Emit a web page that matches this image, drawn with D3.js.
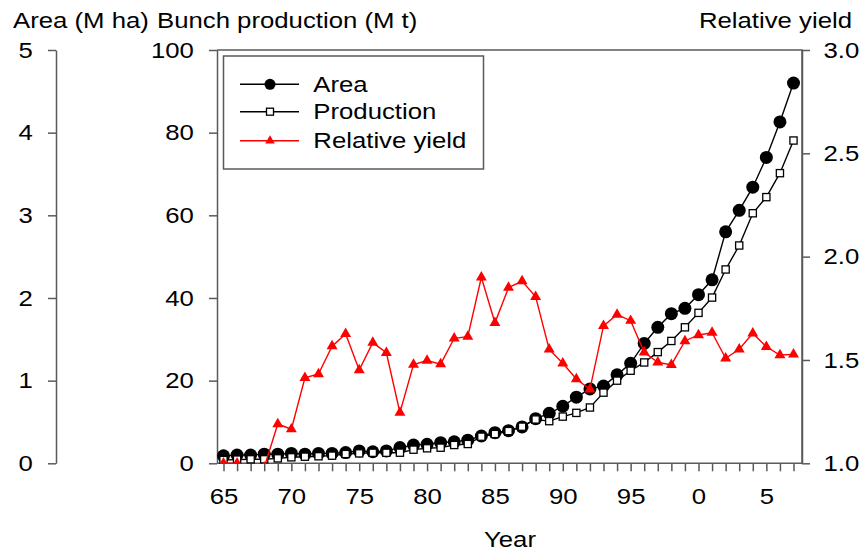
<!DOCTYPE html>
<html><head><meta charset="utf-8">
<script src="https://cdn.jsdelivr.net/npm/d3@7/dist/d3.min.js"></script>
<style>
body{margin:0;background:#fff;}
text{font-family:"Liberation Sans",Arial,sans-serif;fill:#000;}
</style></head>
<body><svg id="c" width="863" height="552"></svg>
<script>
const years = [1965,1966,1967,1968,1969,1970,1971,1972,1973,1974,1975,1976,1977,1978,1979,1980,1981,1982,1983,1984,1985,1986,1987,1988,1989,1990,1991,1992,1993,1994,1995,1996,1997,1998,1999,2000,2001,2002,2003,2004,2005,2006,2007];
const area = [0.09,0.10,0.10,0.11,0.11,0.12,0.11,0.12,0.12,0.13,0.15,0.14,0.15,0.19,0.22,0.23,0.25,0.26,0.28,0.33,0.37,0.395,0.44,0.54,0.605,0.69,0.80,0.90,0.935,1.07,1.21,1.45,1.645,1.81,1.875,2.04,2.22,2.80,3.06,3.34,3.70,4.13,4.60];
const production = [0.8,0.9,0.97,0.97,1.2,1.45,1.6,1.7,1.85,2.25,2.4,2.55,2.55,2.57,3.3,3.63,3.78,4.43,4.67,6.44,7.09,7.8,8.86,10.6,10.2,11.3,12.2,13.5,17.1,20.0,22.4,24.4,26.9,29.6,32.9,36.4,40.1,46.9,52.7,60.5,64.4,70.2,78.1];
const relYield = [1.0,1.0,0.96,0.98,1.19,1.165,1.414,1.432,1.567,1.626,1.451,1.584,1.535,1.245,1.478,1.497,1.48,1.605,1.613,1.90,1.68,1.85,1.882,1.806,1.551,1.484,1.408,1.358,1.665,1.72,1.69,1.537,1.489,1.476,1.592,1.621,1.632,1.508,1.552,1.629,1.564,1.524,1.527];
const areaTicks = [0,1,2,3,4,5];
const prodTicks = [0,20,40,60,80,100];
const yieldTicks = [1.0,1.5,2.0,2.5,3.0];
const xLabelYears = [1965,1970,1975,1980,1985,1990,1995,2000,2005];
const seriesNames = ["Area","Production","Relative yield"];

const svg = d3.select("#c");
const FS = 22, SX = 1.17;
const axisCol = "#5a5a5a";
const L = 217, R = 802, T = 50, B = 463.3;

const x = d3.scaleLinear().domain([1965,2007]).range([223.5,793.5]);
const yA = d3.scaleLinear().domain([0,5]).range([B,T]);
const yP = d3.scaleLinear().domain([0,100]).range([B,T]);
const yR = d3.scaleLinear().domain([1,3]).range([B,T]);

function styleAxis(g){
  g.select(".domain").attr("stroke",axisCol).attr("stroke-width",1.5);
  g.selectAll(".tick line").attr("stroke",axisCol).attr("stroke-width",1.5);
  g.selectAll(".tick text").attr("font-size",FS).attr("fill","#000")
   .style("font-family",'"Liberation Sans",Arial,sans-serif');
}
function stretch(sel){
  sel.each(function(){
    const t=d3.select(this);
    const tx=+t.attr("x")||0, ty=+t.attr("y")||0;
    t.attr("x",0).attr("y",0).attr("transform",`translate(${tx*SX},${ty}) scale(${SX},1)`);
  });
}

// Area axis
const gA = svg.append("g").attr("transform",`translate(56,0)`)
  .call(d3.axisLeft(yA).tickValues(areaTicks).tickFormat(d3.format("d")).tickSize(8).tickSizeOuter(0).tickPadding(11.7));
styleAxis(gA); stretch(gA.selectAll(".tick text"));

// Production axis
const gP = svg.append("g").attr("transform",`translate(${L},0)`)
  .call(d3.axisLeft(yP).tickValues(prodTicks).tickFormat(d3.format("d")).tickSize(8).tickSizeOuter(0).tickPadding(11.7));
styleAxis(gP); stretch(gP.selectAll(".tick text"));

// Right axis
const gR = svg.append("g").attr("transform",`translate(${R},0)`)
  .call(d3.axisRight(yR).tickValues(yieldTicks).tickFormat(d3.format(".1f")).tickSize(8).tickSizeOuter(0).tickPadding(10.4));
styleAxis(gR); stretch(gR.selectAll(".tick text"));

// X axis
const gX = svg.append("g").attr("transform",`translate(0,${B})`)
  .call(d3.axisBottom(x).tickValues(years).tickSize(8).tickSizeOuter(0).tickPadding(17)
    .tickFormat(d => xLabelYears.includes(d) ? String(d%100) : ""));
styleAxis(gX);
gX.select(".domain").remove();
stretch(gX.selectAll(".tick text"));

// frame
svg.append("path").attr("d",`M${L},${T}H${R}V${B}H${L}`).attr("fill","none")
  .attr("stroke",axisCol).attr("stroke-width",1.5);

// titles
function title(txt,xx,yy,anchor){
  svg.append("text").attr("font-size",FS).attr("text-anchor",anchor)
    .attr("transform",`translate(${xx},${yy}) scale(${SX},1)`).text(txt);
}
title("Area (M ha)",13,27.5,"start");
title("Bunch production (M t)",157,27.5,"start");
title("Relative yield",852,27.5,"end");
title("Year",510,547,"middle");

// clip
svg.append("clipPath").attr("id","pc").append("rect")
  .attr("x",L).attr("y",T-10).attr("width",R-L).attr("height",B-T+10.7);
const plot = svg.append("g").attr("clip-path","url(#pc)");

const tri = d3.symbol().type(d3.symbolTriangle);

// Area
plot.append("path").datum(years.map((yr,i)=>[x(yr),yA(area[i])]))
  .attr("d",d3.line()).attr("fill","none").attr("stroke","#000").attr("stroke-width",1.4);
plot.selectAll(".ca").data(years).join("circle")
  .attr("cx",d=>x(d)).attr("cy",(d,i)=>yA(area[i])).attr("r",6.5).attr("fill","#000");

// Production
plot.append("path").datum(years.map((yr,i)=>[x(yr),yP(production[i])]))
  .attr("d",d3.line()).attr("fill","none").attr("stroke","#000").attr("stroke-width",1.4);
plot.selectAll(".sp").data(years).join("rect")
  .attr("x",d=>x(d)-3.6).attr("y",(d,i)=>yP(production[i])-3.6).attr("width",7.2).attr("height",7.2)
  .attr("fill","#fff").attr("stroke","#000").attr("stroke-width",1.3);

// Relative yield
plot.append("path").datum(years.map((yr,i)=>[x(yr),yR(relYield[i])]))
  .attr("d",d3.line()).attr("fill","none").attr("stroke","#f00").attr("stroke-width",1.4);
plot.selectAll(".tr").data(years).join("path")
  .attr("transform",(d,i)=>`translate(${x(d)},${yR(relYield[i])})`)
  .attr("d",tri.size(52)()).attr("fill","#f00");

// legend
svg.append("rect").attr("x",223.5).attr("y",56).attr("width",260).attr("height",113)
  .attr("fill","#fff").attr("stroke",axisCol).attr("stroke-width",1.5);
const rows = [84.3,111.7,140.7];
const lg = svg.append("g");
seriesNames.forEach((n,i)=>{
  const yy = rows[i];
  const col = i===2 ? "#f00" : "#000";
  lg.append("line").attr("x1",240).attr("x2",299).attr("y1",yy).attr("y2",yy)
    .attr("stroke",col).attr("stroke-width",1.4);
  if(i===0) lg.append("circle").attr("cx",270).attr("cy",yy).attr("r",5.5).attr("fill","#000");
  if(i===1) lg.append("rect").attr("x",266.5).attr("y",yy-3.5).attr("width",7).attr("height",7)
    .attr("fill","#fff").attr("stroke","#000").attr("stroke-width",1.3);
  if(i===2) lg.append("path").attr("transform",`translate(270,${yy})`).attr("d",tri.size(40)()).attr("fill","#f00");
  lg.append("text").attr("font-size",FS).attr("transform",`translate(313.3,${yy+7.3}) scale(${SX},1)`).text(n);
});
</script></body></html>
